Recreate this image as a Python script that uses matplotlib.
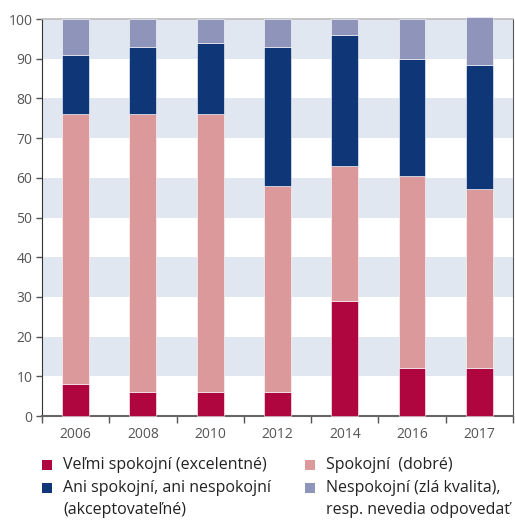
import matplotlib.pyplot as plt
from matplotlib.patches import Rectangle
import numpy as np

plt.rcParams['font.family'] = ['Open Sans', 'DejaVu Sans']

years = ['2006', '2008', '2010', '2012', '2014', '2016', '2017']
velmi = [8, 6, 6, 6, 29, 12, 12]
spokojni = [68, 70, 70, 52, 34, 48.5, 45.3]
ani = [15, 17, 18, 35, 33, 29.5, 31.1]
nespokojni = [9, 7, 6, 7, 4, 10, 12]

labels = ['Veľmi spokojní (excelentné)', 'Spokojní  (dobré)',
          'Ani spokojní, ani nespokojní\n(akceptovateľné)',
          'Nespokojní (zlá kvalita),\nresp. nevedia odpovedať']
colors = ['#b0063f', '#db999c', '#0f3777', '#8f94bb']

W, H = 515, 521
fig = plt.figure(figsize=(W / 100, H / 100), dpi=100)
ax = fig.add_axes([0.0816, 0.2015, 0.9144, 0.762])

x = np.arange(len(years))
for lo in range(10, 100, 20):
    ax.axhspan(lo, lo + 10, color='#e1e7f1', zorder=0, lw=0)

series = [velmi, spokojni, ani, nespokojni]
bottom = np.zeros(len(years))
for vals, c in zip(series, colors):
    ax.bar(x, vals, 0.4, bottom=bottom, color=c, edgecolor='#ffffff', linewidth=0.4,
           zorder=3, clip_on=False)
    bottom += np.array(vals)

ax.set_xlim(-0.5, len(years) - 0.5)
ax.set_ylim(0, 100)
ax.set_yticks(range(0, 101, 10))
ax.set_xticks(x)
ax.set_xticklabels(years)
ax.set_xticks(np.arange(-0.5, len(years)), minor=True)
ax.tick_params(axis='x', which='major', length=0, pad=8, labelsize=10, colors='#555555')
ax.tick_params(axis='x', which='minor', length=5, width=1, color='#555555')
ax.tick_params(axis='y', length=4, width=1, labelsize=10, colors='#555555', pad=3)
ax.spines['left'].set_color('#333333')
ax.spines['bottom'].set_color('#666666')
ax.spines['bottom'].set_linewidth(1.5)
ax.spines['top'].set_color('#bbbbbb')
ax.spines['top'].set_linewidth(1.2)
ax.spines['right'].set_color('#555555')

# manual legend: 2 columns, handle aligned with the first line of the label
slots = [(42, 465), (305, 465), (42, 487.5), (305, 487.5)]
line_h = 22.5
for (px, py), lab, c in zip(slots, labels, colors):
    fig.patches.append(Rectangle((px / W, 1 - (py + 5) / H), 10 / W, 10 / H,
                                 transform=fig.transFigure, color=c, lw=0))
    for i, line in enumerate(lab.split('\n')):
        fig.text((px + 21) / W, 1 - (py + i * line_h) / H, line, fontsize=11.5,
                 color='#222222', va='center', ha='left')

fig.savefig('out.png', dpi=100)
